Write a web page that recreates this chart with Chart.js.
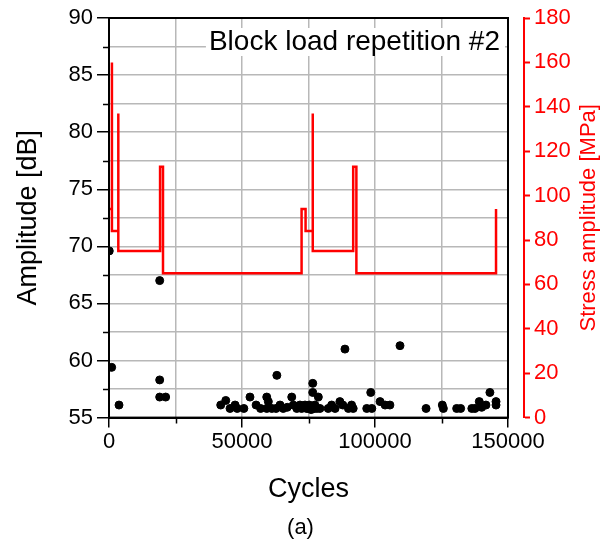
<!DOCTYPE html>
<html>
  <head>
    <title>Block load repetition #2</title>
    <meta charset="UTF-8" />
    <script src="https://cdn.jsdelivr.net/npm/chart.js"></script>
    <style>
      body { margin: 0; background: #fff; }
    </style>
  </head>

  <body>
    <canvas id="myChart" width="601" height="551"></canvas>

    <script>
      // stress step profile (cycles, MPa)
      const stressCycles = [0, 1100, 1100, 1100, 3500, 3500, 3500, 19200, 19200, 20300, 20300, 72400,
        72400, 73900, 73900, 76600, 76600, 76600, 91800, 91800, 93000, 93000, 145500, 145500];
      const stressValues = [94, 94, 160, 84, 84, 137, 75, 75, 113, 113, 65, 65,
        94, 94, 84, 84, 137, 75, 75, 113, 113, 65, 65, 94];

      // AE hits (cycles, dB)
      const ampCycles = [100, 1000, 3760, 19060, 19060, 19060, 21300,
        42000, 43900, 45500, 47400, 48200, 50700, 53000, 55300, 57000, 59300,
        59300, 59900, 61200, 62800, 63100, 64300, 65500, 67000, 68700, 69300,
        70600, 71800, 72400, 72900, 73700, 74300, 74900, 75300, 75600, 76000,
        76600, 76600, 76700, 77000, 77400, 78100, 78700, 79300, 82400, 83700,
        85000, 86800, 87900, 88700, 90000, 91200, 91800, 96900, 98400, 98800,
        101900, 103800, 105600, 109400, 119200, 125300, 125700, 130700, 132200, 136400,
        137600, 139200, 140100, 141700, 143200, 145500, 145500];
      const ampValues = [69.6, 59.4, 56.1, 67.0, 58.3, 56.8, 56.8,
        56.1, 56.5, 55.8, 56.1, 55.8, 55.8, 56.8, 56.1, 55.8, 55.8,
        56.8, 56.4, 55.8, 55.8, 58.7, 56.1, 55.8, 55.9, 56.8, 56.1,
        55.8, 56.1, 55.8, 56.0, 56.1, 55.8, 55.8, 56.1, 55.8, 55.7,
        57.2, 58.0, 55.8, 55.8, 56.1, 55.8, 56.8, 55.8, 55.8, 56.1,
        55.8, 56.4, 56.1, 61.0, 55.8, 56.1, 55.8, 55.8, 57.2, 55.8,
        56.4, 56.1, 56.1, 61.3, 55.8, 56.1, 55.8, 55.8, 55.8, 55.8,
        55.8, 56.4, 55.9, 56.1, 57.2, 56.4, 56.1];

      const xMinorTicks = [25000, 75000, 125000];
      const yMinorTicks = [57.5, 62.5, 67.5, 72.5, 77.5, 82.5, 87.5];

      const FONT = '"Liberation Sans", Arial, sans-serif';
      Chart.defaults.font.family = FONT;
      Chart.defaults.color = '#000';

      // frame, minor ticks, inner label, right axis title
      const extras = {
        id: 'extras',
        afterDraw(chart) {
          const ctx = chart.ctx;
          const a = chart.chartArea;
          const xs = chart.scales.x, ys = chart.scales.y;
          ctx.save();

          // label box in top right corner
          ctx.font = '28px ' + FONT;
          const txt = 'Block load repetition #2';
          const w = ctx.measureText(txt).width;
          const tx = a.right - 8;
          ctx.fillStyle = '#fff';
          ctx.fillRect(tx - w - 3, 28, w + 8, 28);
          ctx.fillStyle = '#000';
          ctx.textAlign = 'right';
          ctx.textBaseline = 'middle';
          ctx.fillText(txt, tx, 42);

          // minor ticks
          ctx.strokeStyle = '#000';
          ctx.lineWidth = 1.5;
          ctx.beginPath();
          yMinorTicks.forEach(v => {
            const py = Math.round(ys.getPixelForValue(v)) + 0.5;
            ctx.moveTo(a.left - 6, py);
            ctx.lineTo(a.left, py);
          });
          xMinorTicks.forEach(v => {
            const px = Math.round(xs.getPixelForValue(v)) + 0.5;
            ctx.moveTo(px, a.bottom);
            ctx.lineTo(px, a.bottom + 6);
          });
          ctx.stroke();

          // frame
          ctx.lineWidth = 2;
          ctx.strokeRect(a.left, a.top, a.right - a.left, a.bottom - a.top);

          // right axis title, reading bottom to top
          const y2 = chart.scales.y2;
          ctx.fillStyle = '#ff0000';
          ctx.font = '22px ' + FONT;
          ctx.textAlign = 'center';
          ctx.translate(589, (y2.top + y2.bottom) / 2);
          ctx.rotate(-Math.PI / 2);
          ctx.fillText('Stress amplitude [MPa]', 0, 0);
          ctx.restore();
        }
      };

      const ampPoints = ampCycles.map((c, i) => ({ x: c, y: ampValues[i] }));
      const stressPoints = stressCycles.map((c, i) => ({ x: c, y: stressValues[i] }));

      new Chart(document.getElementById('myChart').getContext('2d'), {
        type: 'scatter',
        data: {
          datasets: [
            {
              label: 'Stress amplitude',
              data: stressPoints,
              yAxisID: 'y2',
              showLine: true,
              borderColor: '#ff0000',
              borderWidth: 2.5,
              pointRadius: 0,
              tension: 0
            },
            {
              label: 'Amplitude',
              data: ampPoints,
              yAxisID: 'y',
              backgroundColor: '#000',
              borderColor: '#000',
              pointRadius: 4,
              pointHoverRadius: 4
            }
          ]
        },
        options: {
          responsive: false,
          animation: false,
          layout: { padding: { top: 18, left: 0, right: 0, bottom: 0 } },
          plugins: {
            legend: { display: false },
            tooltip: { enabled: false },
            title: {
              display: true,
              position: 'bottom',
              text: '(a)',
              color: '#000',
              font: { size: 22, weight: 'normal' },
              padding: { top: 5, bottom: 10 }
            }
          },
          scales: {
            x: {
              type: 'linear',
              min: 0,
              max: 150000,
              afterFit: s => { s.height = 92; },
              ticks: {
                stepSize: 25000,
                autoSkip: false,
                maxRotation: 0,
                padding: 1,
                font: { size: 22 },
                callback: v => (v % 50000 === 0 ? String(v) : '')
              },
              grid: {
                color: '#b8b8b8',
                lineWidth: 1.5,
                tickLength: 10,
                tickWidth: 1.5,
                tickColor: c => (c.tick && c.tick.value % 50000 === 0 ? '#000' : 'rgba(0,0,0,0)')
              },
              border: { color: '#000', width: 2 },
              title: {
                display: true,
                text: 'Cycles',
                font: { size: 27 },
                padding: { top: 0, bottom: 4 }
              }
            },
            y: {
              position: 'left',
              min: 55,
              max: 90,
              afterFit: s => { s.width = 109; },
              ticks: {
                stepSize: 2.5,
                autoSkip: false,
                padding: 4,
                font: { size: 22 },
                callback: v => (v % 5 === 0 ? String(v) : '')
              },
              grid: {
                color: '#b8b8b8',
                lineWidth: 1.5,
                tickLength: 12,
                tickWidth: 1.5,
                tickColor: c => (c.tick && c.tick.value % 5 === 0 ? '#000' : 'rgba(0,0,0,0)')
              },
              border: { color: '#000', width: 2 },
              title: {
                display: true,
                text: 'Amplitude [dB]',
                font: { size: 27 },
                padding: { top: 12, bottom: 0 }
              }
            },
            gap: {
              position: 'right',
              weight: 0,
              afterFit: s => { s.width = 16; },
              ticks: { display: false },
              grid: { display: false },
              border: { display: false }
            },
            y2: {
              position: 'right',
              weight: 1,
              min: 0,
              max: 180,
              afterFit: s => { s.width = 77; },
              ticks: {
                stepSize: 20,
                color: '#ff0000',
                padding: 4,
                font: { size: 22 }
              },
              grid: {
                drawOnChartArea: false,
                color: '#ff0000',
                tickLength: 6,
                tickWidth: 2
              },
              border: { color: '#ff0000', width: 2 }
            }
          }
        },
        plugins: [extras]
      });
    </script>
  </body>
</html>
